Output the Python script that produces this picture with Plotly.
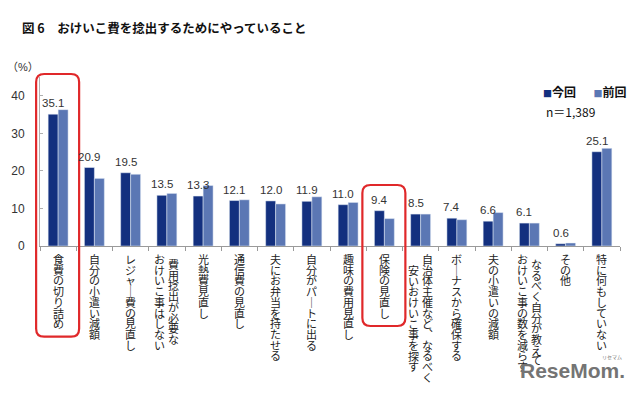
import plotly.graph_objects as go

# ---------------- data ----------------
categories = [
    "食費の切り詰め",
    "自分の小遣い減額",
    "レジャー費の見直し",
    "費用捻出が必要な\nおけいこ事はしない",
    "光熱費見直し",
    "通信費の見直し",
    "夫にお弁当を持たせる",
    "自分がパートに出る",
    "趣味の費用見直し",
    "保険の見直し",
    "自治体主催など、なるべく\n安いおけいこ事を探す",
    "ボーナスから確保する",
    "夫の小遣いの減額",
    "なるべく自分が教えて\nおけいこ事の数を減らす",
    "その他",
    "特に何もしていない",
]
current = [35.1, 20.9, 19.5, 13.5, 13.3, 12.1, 12.0, 11.9, 11.0, 9.4, 8.5, 7.4, 6.6, 6.1, 0.6, 25.1]
previous = [36.3, 18.0, 19.1, 14.0, 16.1, 12.3, 11.2, 13.1, 11.6, 7.3, 8.5, 7.0, 8.9, 6.1, 0.8, 26.0]
series_names = ["今回", "前回"]
y_ticks = [0, 10, 20, 30, 40]
highlighted = ["食費の切り詰め", "保険の見直し"]
title_text = "図 6　おけいこ費を捻出するためにやっていること"
sample_note = "n＝1,389"

# ---------------- style ----------------
W, H = 640, 393
ML, MR, MT, MB = 40, 20, 77, 147
PW, PH = W - ML - MR, H - MT - MB
C_NOW = "#13307f"
C_PREV = "#5b77b4"
FONT = "Liberation Sans, Noto Sans CJK JP, sans-serif"
JFONT = "Noto Sans CJK JP, sans-serif"
PITCH = 10.7        # vertical char pitch (px)
CHAR = 11           # glyph size of category labels (px)
FIRST = 12.5        # first char centre below axis (px)
COLGAP = 14         # distance between text columns (px)
highlight_top_px = {"食費の切り詰め": 74, "保険の見直し": 185}

x_keys = [c.replace("\n", "") for c in categories]
n = len(categories)

fig = go.Figure()
fig.add_bar(x=x_keys, y=current, name=series_names[0], marker_color=C_NOW,
            showlegend=False)
fig.add_bar(x=x_keys, y=previous, name=series_names[1], marker_color=C_PREV,
            showlegend=False)

annotations = []

# value labels above the 今回 bars
for k, v in zip(x_keys, current):
    annotations.append(dict(x=k, y=v, xref="x", yref="y", text=f"{v:.1f}",
                            showarrow=False, yanchor="bottom", yshift=3, xshift=-5,
                            font=dict(family=FONT, size=11.5, color="#333333")))

# vertical (tategaki) category labels: one annotation per text column,
# characters stacked with <br>; base font sets line pitch, span sets glyph size
vert_map = {"ー": "｜", "、": "︑"}
for k, cat in zip(x_keys, categories):
    cols = cat.split("\n")
    ncol = len(cols)
    maxlen = max(len(c) for c in cols)
    for j, col in enumerate(cols):
        xs = ((ncol - 1) / 2 - j) * COLGAP
        off = (maxlen - len(col)) / 2 * PITCH
        txt = "<br>".join(f"<span style='font-size:{CHAR}px'>{vert_map.get(ch, ch)}</span>"
                          for ch in col)
        annotations.append(dict(
            x=k, y=0, xref="x", yref="paper", text=txt,
            showarrow=False, xanchor="center", yanchor="top", align="center",
            borderpad=0, xshift=xs, yshift=-(FIRST - 8.6 + off),
            font=dict(family=JFONT, size=PITCH / 1.3, color="#222222")))

# "(%)" unit label
annotations.append(dict(x=(23 - ML) / PW, y=(MT + PH - 67) / PH, xref="paper", yref="paper",
                        text="（%）", showarrow=False, xanchor="center", yanchor="middle",
                        font=dict(family=FONT, size=11, color="#333333")))

# legend (as text)
annotations.append(dict(x=(541 - ML) / PW, y=(MT + PH - 91) / PH, xref="paper", yref="paper",
                        text=f"<span style='color:{C_NOW};font-size:9px'>■</span><b>{series_names[0]}</b>"
                             f"　  <span style='color:{C_PREV};font-size:9px'>■</span><b>{series_names[1]}</b>",
                        showarrow=False, xanchor="left", yanchor="middle",
                        font=dict(family=JFONT, size=12, color="#111111")))
annotations.append(dict(x=(544 - ML) / PW, y=(MT + PH - 111) / PH, xref="paper", yref="paper",
                        text=sample_note, showarrow=False, xanchor="left", yanchor="middle",
                        font=dict(family=JFONT, size=12, color="#111111")))

# watermark
annotations.append(dict(x=(627 - ML) / PW, y=(MT + PH - 370) / PH, xref="paper", yref="paper",
                        text="<b>ReseMom.</b>", showarrow=False, xanchor="right", yanchor="middle",
                        font=dict(family="Liberation Sans, sans-serif", size=21, color="#747474")))
annotations.append(dict(x=(612 - ML) / PW, y=(MT + PH - 357) / PH, xref="paper", yref="paper",
                        text="リセマム", showarrow=False, xanchor="center", yanchor="middle",
                        font=dict(family=JFONT, size=5, color="#747474")))

# red rounded highlight boxes
shapes = []
def px2paper(px, py):
    return (px - ML) / PW, (MT + PH - py) / PH

for name in highlighted:
    i = x_keys.index(name)
    cat = categories[i]
    maxlen = max(len(c) for c in cat.split("\n"))
    cx = ML + (i + 0.5) * PW / n - 0.5
    left, right = cx - 21.5, cx + 21.5
    top = highlight_top_px[name]
    bottom = MT + PH + FIRST + (maxlen - 1) * PITCH + 14
    x0, y0 = px2paper(left, bottom)
    x1, y1 = px2paper(right, top)
    rx, ry = 8 / PW, 8 / PH
    path = (f"M {x0+rx},{y1} L {x1-rx},{y1} Q {x1},{y1} {x1},{y1-ry} "
            f"L {x1},{y0+ry} Q {x1},{y0} {x1-rx},{y0} L {x0+rx},{y0} "
            f"Q {x0},{y0} {x0},{y0+ry} L {x0},{y1-ry} Q {x0},{y1} {x0+rx},{y1} Z")
    shapes.append(dict(type="path", path=path, xref="paper", yref="paper",
                       line=dict(color="#e0282a", width=2.2), layer="above"))

fig.update_layout(
    width=W, height=H,
    margin=dict(l=ML, r=MR, t=MT, b=MB),
    paper_bgcolor="white", plot_bgcolor="white",
    barmode="group", bargap=0.45, bargroupgap=0.0,
    title=dict(text=f"<b>{title_text}</b>", x=22 / W, xref="container", xanchor="left",
               y=1 - 29 / H, yanchor="middle",
               font=dict(family=JFONT, size=12.5, color="#111111")),
    annotations=annotations,
    shapes=shapes,
    showlegend=False,
)
fig.update_xaxes(type="category", range=[-0.5, n - 0.5], tickson="boundaries",
                 ticks="outside", ticklen=4, tickcolor="#9a9a9a",
                 showticklabels=False, showline=True, linecolor="#9a9a9a",
                 linewidth=1, showgrid=False, zeroline=False)
fig.update_yaxes(range=[0, 45], tickvals=y_ticks, ticks="inside", ticklen=3,
                 tickcolor="#b0b0b0", showline=True, linecolor="#b0b0b0",
                 showgrid=False, zeroline=False, ticklabelstandoff=12,
                 tickfont=dict(family=FONT, size=12, color="#333333"))

fig.write_html("out.html", config={"displayModeBar": False},
               post_script="document.body.style.margin='0';")
